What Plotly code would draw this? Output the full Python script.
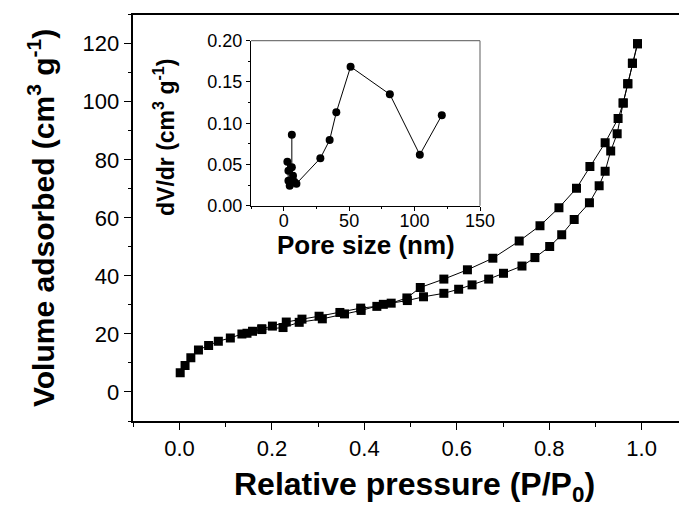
import plotly.graph_objects as go

# Adsorption branch (lower)
ads_p = [0.0015, 0.012, 0.0245, 0.041, 0.063, 0.084, 0.110, 0.135, 0.158, 0.178, 0.224, 0.259, 0.309,
         0.357, 0.393, 0.441, 0.493, 0.528, 0.572, 0.604, 0.633, 0.669, 0.701, 0.741, 0.769, 0.801,
         0.827, 0.854, 0.887, 0.908, 0.921, 0.933, 0.947, 0.960, 0.970, 0.980, 0.991]
ads_v = [6.6, 9.1, 11.8, 14.5, 16.0, 17.5, 18.6, 20.0, 20.9, 21.5, 22.2, 24.0, 25.2,
         26.9, 28.1, 30.2, 31.5, 32.8, 34.0, 35.4, 36.9, 38.9, 40.9, 43.4, 46.3, 50.1,
         54.2, 59.4, 65.2, 71.1, 76.1, 83.0, 89.0, 99.6, 106.2, 113.3, 120.0]
# Desorption branch (upper)
des_p = [0.991, 0.980, 0.970, 0.960, 0.949, 0.921, 0.888, 0.859, 0.821, 0.780, 0.735, 0.678, 0.623,
         0.572, 0.521, 0.492, 0.458, 0.427, 0.392, 0.347, 0.302, 0.265, 0.231, 0.201, 0.178, 0.146]
des_v = [120.0, 113.3, 106.2, 99.6, 94.2, 85.9, 77.7, 70.2, 63.5, 57.3, 52.0, 46.1, 42.1,
         38.9, 36.0, 32.4, 30.6, 29.5, 28.9, 27.4, 26.1, 25.1, 24.1, 22.7, 21.8, 20.2]

# Inset: pore size distribution
pore_d = [6.2, 6.2, 7.1, 3.6, 2.8, 3.6, 4.6, 8.1, 9.7, 28.0, 35.1, 40.2, 51.1, 81.1, 104.0, 120.8]
pore_v = [0.086, 0.0465, 0.0364, 0.0424, 0.0533, 0.0303, 0.0242, 0.029, 0.0267, 0.0575, 0.0796,
          0.1132, 0.1685, 0.135, 0.0618, 0.1096]

W, H = 679, 508
FONT = "Liberation Sans, Arial, sans-serif"

fig = go.Figure()
fig.add_trace(go.Scatter(x=ads_p, y=ads_v, mode="lines+markers",
                         line=dict(color="black", width=1),
                         marker=dict(symbol="square", size=9, color="black"),
                         xaxis="x", yaxis="y", showlegend=False))
fig.add_trace(go.Scatter(x=des_p, y=des_v, mode="lines+markers",
                         line=dict(color="black", width=1),
                         marker=dict(symbol="square", size=9, color="black"),
                         xaxis="x", yaxis="y", showlegend=False))
fig.add_trace(go.Scatter(x=pore_d, y=pore_v, mode="lines+markers",
                         line=dict(color="black", width=1),
                         marker=dict(symbol="circle", size=8, color="black"),
                         xaxis="x2", yaxis="y2", showlegend=False))

main_l, main_r = 133.3 / W, 1.0
main_b, main_t = (H - 421) / H, (H - 14.7) / H
ins_l, ins_r = 251 / W, 480 / W
ins_b, ins_t = (H - 205.7) / H, (H - 40.7) / H

fig.update_layout(
    width=W, height=H,
    margin=dict(l=0, r=0, t=0, b=0),
    paper_bgcolor="white", plot_bgcolor="white",
    font=dict(family=FONT, color="black"),
    xaxis=dict(domain=[main_l, main_r], range=[-0.1, (679 - 180) / 461.7],
               tick0=0, dtick=0.2, tickformat=".1f",
               ticks="outside", ticklen=7, tickwidth=1.3, tickcolor="black",
               minor=dict(dtick=0.1, tick0=0, ticks="outside", ticklen=4, tickwidth=1.3, tickcolor="black"),
               showline=True, linecolor="black", linewidth=1.5, mirror=True,
               showgrid=False, zeroline=False, automargin=False,
               tickfont=dict(size=22, family=FONT, color="black")),
    yaxis=dict(domain=[main_b, main_t], range=[-10, 130],
               tick0=0, dtick=20,
               ticks="outside", ticklen=8, tickwidth=1.3, tickcolor="black",
               minor=dict(dtick=10, tick0=0, ticks="outside", ticklen=4, tickwidth=1.3, tickcolor="black"),
               showline=True, linecolor="black", linewidth=1.5, mirror=False,
               showgrid=False, zeroline=False, automargin=False,
               tickfont=dict(size=22, family=FONT, color="black")),
    xaxis2=dict(domain=[ins_l, ins_r], range=[-25, 150], anchor="y2",
                tick0=0, dtick=50,
                ticks="outside", ticklen=4, tickwidth=1, tickcolor="black",
                minor=dict(dtick=25, tick0=0, ticks="outside", ticklen=2, tickwidth=1, tickcolor="black"),
                showline=True, linecolor="black", linewidth=1.2,
                showgrid=False, zeroline=False, automargin=False, ticklabelstandoff=-5,
                tickfont=dict(size=18, family=FONT, color="black")),
    yaxis2=dict(domain=[ins_b, ins_t], range=[0, 0.2], anchor="x2",
                tick0=0, dtick=0.05, tickformat=".2f",
                ticks="outside", ticklen=4, tickwidth=1, tickcolor="black",
                minor=dict(dtick=0.025, tick0=0, ticks="outside", ticklen=2, tickwidth=1, tickcolor="black"),
                showline=True, linecolor="black", linewidth=1.2,
                showgrid=False, zeroline=False, automargin=False,
                tickfont=dict(size=18, family=FONT, color="black")),
)

# inset top/right frame (gray)
fig.add_shape(type="line", xref="paper", yref="paper", x0=ins_l, x1=ins_r, y0=ins_t, y1=ins_t,
              line=dict(color="#777777", width=1.2))
fig.add_shape(type="line", xref="paper", yref="paper", x0=ins_r, x1=ins_r, y0=ins_b, y1=ins_t,
              line=dict(color="#777777", width=1.2))

def px_x(p):
    return p / W

def px_y(p):
    return (H - p) / H

annos = [
    dict(text="<b>Relative pressure (P/P<sub>0</sub>)</b>", x=px_x(414), y=px_y(486), size=32, angle=0),
    dict(text="<b>Volume adsorbed (cm<sup>3</sup> g<sup>-1</sup>)</b>", x=px_x(41), y=px_y(218), size=30, angle=-90),
    dict(text="<b>Pore size (nm)</b>", x=px_x(366), y=px_y(245), size=26, angle=0),
    dict(text="<b>dV/dr (cm<sup>3</sup> g<sup>-1</sup>)</b>", x=px_x(164), y=px_y(138), size=23, angle=-90),
]
for a in annos:
    fig.add_annotation(text=a["text"], x=a["x"], y=a["y"], xref="paper", yref="paper",
                       xanchor="center", yanchor="middle", showarrow=False, textangle=a["angle"],
                       borderpad=0,
                       font=dict(size=a["size"], family=FONT, color="black"))

fig.write_html("out.html", config={"displayModeBar": False},
               post_script="document.body.style.margin='0';")
